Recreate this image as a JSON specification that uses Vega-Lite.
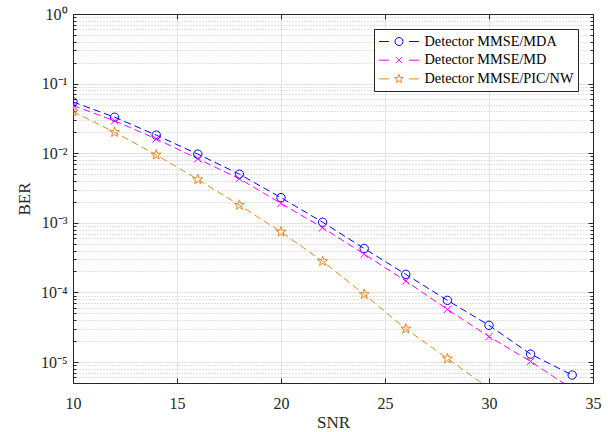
{
  "$schema": "https://vega.github.io/schema/vega-lite/v6.json",
  "autosize": "none",
  "width": 520,
  "height": 369,
  "padding": {"left": 73, "top": 14, "right": 15, "bottom": 49},
  "background": "white",
  "config": {
    "view": {"stroke": null},
    "axis": {
      "domainColor": "#262626",
      "tickColor": "#262626",
      "labelColor": "#262626",
      "titleColor": "#262626",
      "labelFont": "Liberation Serif",
      "titleFont": "Liberation Serif",
      "labelFontSize": 16,
      "titleFontSize": 17,
      "titleFontWeight": "normal"
    },
    "legend": {
      "labelFont": "Liberation Serif",
      "labelFontSize": 14.3,
      "labelColor": "#000000"
    }
  },
  "data": {
    "values": [
      {"snr": 10, "ber": 0.0546, "detector": "Detector MMSE/MDA"},
      {"snr": 12, "ber": 0.0329, "detector": "Detector MMSE/MDA"},
      {"snr": 14, "ber": 0.0182, "detector": "Detector MMSE/MDA"},
      {"snr": 16, "ber": 0.0097, "detector": "Detector MMSE/MDA"},
      {"snr": 18, "ber": 0.0050, "detector": "Detector MMSE/MDA"},
      {"snr": 20, "ber": 0.00230, "detector": "Detector MMSE/MDA"},
      {"snr": 22, "ber": 0.00102, "detector": "Detector MMSE/MDA"},
      {"snr": 24, "ber": 0.000428, "detector": "Detector MMSE/MDA"},
      {"snr": 26, "ber": 0.000182, "detector": "Detector MMSE/MDA"},
      {"snr": 28, "ber": 0.000077, "detector": "Detector MMSE/MDA"},
      {"snr": 30, "ber": 0.0000337, "detector": "Detector MMSE/MDA"},
      {"snr": 32, "ber": 0.0000130, "detector": "Detector MMSE/MDA"},
      {"snr": 34, "ber": 0.0000065, "detector": "Detector MMSE/MDA"},
      {"snr": 10, "ber": 0.0483, "detector": "Detector MMSE/MD"},
      {"snr": 12, "ber": 0.0292, "detector": "Detector MMSE/MD"},
      {"snr": 14, "ber": 0.0161, "detector": "Detector MMSE/MD"},
      {"snr": 16, "ber": 0.0083, "detector": "Detector MMSE/MD"},
      {"snr": 18, "ber": 0.0043, "detector": "Detector MMSE/MD"},
      {"snr": 20, "ber": 0.0019, "detector": "Detector MMSE/MD"},
      {"snr": 22, "ber": 0.00085, "detector": "Detector MMSE/MD"},
      {"snr": 24, "ber": 0.000355, "detector": "Detector MMSE/MD"},
      {"snr": 26, "ber": 0.000146, "detector": "Detector MMSE/MD"},
      {"snr": 28, "ber": 0.000057, "detector": "Detector MMSE/MD"},
      {"snr": 30, "ber": 0.0000232, "detector": "Detector MMSE/MD"},
      {"snr": 32, "ber": 0.0000102, "detector": "Detector MMSE/MD"},
      {"snr": 34, "ber": 0.0000041, "detector": "Detector MMSE/MD"},
      {"snr": 10, "ber": 0.0397, "detector": "Detector MMSE/PIC/NW"},
      {"snr": 12, "ber": 0.0200, "detector": "Detector MMSE/PIC/NW"},
      {"snr": 14, "ber": 0.0095, "detector": "Detector MMSE/PIC/NW"},
      {"snr": 16, "ber": 0.0042, "detector": "Detector MMSE/PIC/NW"},
      {"snr": 18, "ber": 0.0018, "detector": "Detector MMSE/PIC/NW"},
      {"snr": 20, "ber": 0.00074, "detector": "Detector MMSE/PIC/NW"},
      {"snr": 22, "ber": 0.00028, "detector": "Detector MMSE/PIC/NW"},
      {"snr": 24, "ber": 0.000094, "detector": "Detector MMSE/PIC/NW"},
      {"snr": 26, "ber": 0.000030, "detector": "Detector MMSE/PIC/NW"},
      {"snr": 28, "ber": 0.0000112, "detector": "Detector MMSE/PIC/NW"},
      {"snr": 30, "ber": 0.0000042, "detector": "Detector MMSE/PIC/NW"}
    ]
  },
  "layer": [
    {
      "mark": {"type": "line", "strokeDash": [7, 4], "strokeWidth": 1, "clip": true},
      "encoding": {
        "x": {
          "field": "snr", "type": "quantitative",
          "scale": {"domain": [10, 35], "nice": false, "zero": false},
          "axis": {
            "orient": "bottom", "title": "SNR",
            "values": [10, 15, 20, 25, 30, 35],
            "grid": true, "gridColor": "#e3e3e3", "gridWidth": 1,
            "tickSize": -5, "labelPadding": 17, "titlePadding": 3,
            "labelFlush": false
          }
        },
        "y": {
          "field": "ber", "type": "quantitative",
          "scale": {"type": "log", "domain": [0.000005, 1], "nice": false},
          "axis": {
            "orient": "left", "title": "BER",
            "values": [0.000005, 0.000006, 0.000007, 0.000008, 0.000009, 0.00001, 0.00002, 0.00003, 0.00004, 0.00005, 0.00006, 0.00007, 0.00008, 0.00009, 0.0001, 0.0002, 0.0003, 0.0004, 0.0005, 0.0006, 0.0007, 0.0008, 0.0009, 0.001, 0.002, 0.003, 0.004, 0.005, 0.006, 0.007, 0.008, 0.009, 0.01, 0.02, 0.03, 0.04, 0.05, 0.06, 0.07, 0.08, 0.09, 0.1, 0.2, 0.3, 0.4, 0.5, 0.6, 0.7, 0.8, 0.9, 1],
            "labelExpr": "abs(log(datum.value)/LN10 - round(log(datum.value)/LN10)) < 1e-6 ? '10' + ['⁰','⁻¹','⁻²','⁻³','⁻⁴','⁻⁵','⁻⁶'][-round(log(datum.value)/LN10)] : ''",
            "labelOverlap": false,
            "labelFlush": false,
            "grid": true,
            "gridColor": {"condition": {"test": "abs(log(datum.value)/LN10 - round(log(datum.value)/LN10)) < 1e-6", "value": "#e3e3e3"}, "value": "#c4c4c4"},
            "gridDash": {"condition": {"test": "abs(log(datum.value)/LN10 - round(log(datum.value)/LN10)) < 1e-6", "value": []}, "value": [1, 2]},
            "tickSize": {"condition": {"test": "abs(log(datum.value)/LN10 - round(log(datum.value)/LN10)) < 1e-6", "value": -5}, "value": -3},
            "labelPadding": 11,
            "titlePadding": 7
          }
        },
        "color": {
          "field": "detector", "type": "nominal",
          "scale": {"domain": ["Detector MMSE/MDA", "Detector MMSE/MD", "Detector MMSE/PIC/NW"], "range": ["#0000FF", "#FF00FF", "#E68A1E"]},
          "legend": null
        }
      }
    },
    {
      "mark": {"type": "point", "filled": false, "strokeWidth": 1, "size": 110, "clip": true, "opacity": 1},
      "encoding": {
        "x": {
          "field": "snr", "type": "quantitative",
          "axis": {
            "orient": "top", "title": null, "labels": false, "grid": false,
            "values": [10, 15, 20, 25, 30, 35], "tickSize": -5
          }
        },
        "y": {
          "field": "ber", "type": "quantitative",
          "axis": {
            "orient": "right", "title": null, "labels": false, "grid": false,
            "values": [0.000005, 0.000006, 0.000007, 0.000008, 0.000009, 0.00001, 0.00002, 0.00003, 0.00004, 0.00005, 0.00006, 0.00007, 0.00008, 0.00009, 0.0001, 0.0002, 0.0003, 0.0004, 0.0005, 0.0006, 0.0007, 0.0008, 0.0009, 0.001, 0.002, 0.003, 0.004, 0.005, 0.006, 0.007, 0.008, 0.009, 0.01, 0.02, 0.03, 0.04, 0.05, 0.06, 0.07, 0.08, 0.09, 0.1, 0.2, 0.3, 0.4, 0.5, 0.6, 0.7, 0.8, 0.9, 1],
            "tickSize": {"condition": {"test": "abs(log(datum.value)/LN10 - round(log(datum.value)/LN10)) < 1e-6", "value": -5}, "value": -3}
          }
        },
        "color": {
          "field": "detector", "type": "nominal",
          "scale": {"domain": ["Detector MMSE/MDA", "Detector MMSE/MD", "Detector MMSE/PIC/NW"], "range": ["#0000FF", "#FF00FF", "#E68A1E"]},
          "legend": null
        },
        "shape": {
          "field": "detector", "type": "nominal",
          "scale": {
            "domain": ["Detector MMSE/MDA", "Detector MMSE/MD", "Detector MMSE/PIC/NW"],
            "range": [
              "M-0.8,0A0.8,0.8,0,1,1,0.8,0A0.8,0.8,0,1,1,-0.8,0Z",
              "M-0.7,-0.7L0.7,0.7M-0.7,0.7L0.7,-0.7",
              "M0,-1L0.235,-0.324L0.951,-0.309L0.38,0.124L0.588,0.809L0,0.4L-0.588,0.809L-0.38,0.124L-0.951,-0.309L-0.235,-0.324Z"
            ]
          },
          "legend": null
        }
      }
    },
    {
      "transform": [{"filter": "false"}],
      "mark": {"type": "point", "filled": false, "strokeWidth": 1, "size": 225},
      "encoding": {
        "x": {"field": "snr", "type": "quantitative", "axis": null},
        "y": {"field": "ber", "type": "quantitative", "axis": null},
        "color": {
          "field": "detector", "type": "nominal",
          "scale": {"domain": ["Detector MMSE/MDA", "Detector MMSE/MD", "Detector MMSE/PIC/NW"], "range": ["#0000FF", "#FF00FF", "#E68A1E"]},
          "legend": {
            "title": null, "orient": "none", "legendX": 301, "legendY": 15,
            "fillColor": "white", "strokeColor": "#262626", "padding": 4.5,
            "rowPadding": 2.7, "symbolSize": 225, "symbolStrokeWidth": 1,
            "labelOffset": 30, "symbolOpacity": 1
          }
        },
        "shape": {
          "field": "detector", "type": "nominal",
          "scale": {
            "domain": ["Detector MMSE/MDA", "Detector MMSE/MD", "Detector MMSE/PIC/NW"],
            "range": [
              "M-1,0H0.333M3,0H4.333M1.133,0A0.533,0.533,0,1,1,2.2,0A0.533,0.533,0,1,1,1.133,0Z",
              "M-1,0H0.333M3,0H4.333M1.267,-0.4L2.067,0.4M1.267,0.4L2.067,-0.4",
              "M-1,0H0.333M3,0H4.333M1.667,-0.613L1.811,-0.199L2.25,-0.19L1.9,0.076L2.027,0.496L1.667,0.245L1.307,0.496L1.434,0.076L1.084,-0.19L1.523,-0.199Z"
            ]
          },
          "legend": {
            "title": null, "orient": "none", "legendX": 301, "legendY": 15,
            "fillColor": "white", "strokeColor": "#262626", "padding": 4.5,
            "rowPadding": 2.7, "symbolSize": 225, "symbolStrokeWidth": 1,
            "labelOffset": 30, "symbolOpacity": 1
          }
        }
      }
    }
  ],
  "resolve": {
    "scale": {"shape": "independent", "color": "independent"},
    "axis": {"x": "independent", "y": "independent"}
  }
}
